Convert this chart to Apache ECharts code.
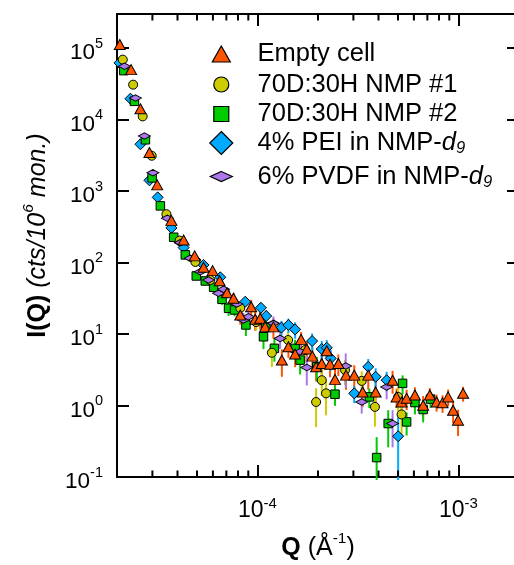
<!DOCTYPE html>
<html><head><meta charset="utf-8">
<script src="https://cdn.jsdelivr.net/npm/echarts@6/dist/echarts.min.js"></script>
<style>html,body{margin:0;padding:0;background:#fff}#c{width:514px;height:565px}</style>
</head><body><div id="c"></div>
<script>
// ---------------- data (Q in 1/Å, I in cts/10^6 mon.) ----------------
const seriesNames = ['Empty cell', '70D:30H NMP #1', '70D:30H NMP #2', '4% PEI in NMP-d9', '6% PVDF in NMP-d9'];

const qEmpty = [2.065e-5, 2.35e-5, 2.616e-5, 2.90e-5, 3.17e-5, 3.73e-5, 4.29e-5, 4.87e-5, 5.39e-5, 5.98e-5,
  6.48e-5, 7.05e-5, 7.60e-5, 8.21e-5, 9.30e-5, 9.74e-5, 1.031e-4, 1.092e-4, 1.20e-4, 1.322e-4,
  1.425e-4, 1.539e-4, 1.648e-4, 1.759e-4, 1.876e-4, 1.957e-4, 2.088e-4, 2.211e-4, 2.296e-4, 2.43e-4,
  2.525e-4, 2.757e-4, 3.03e-4, 3.336e-4, 3.557e-4, 3.87e-4, 4.70e-4, 4.92e-4, 5.21e-4, 5.52e-4,
  6.07e-4, 6.67e-4, 7.20e-4, 7.78e-4, 8.33e-4, 8.88e-4, 9.40e-4, 9.95e-4, 1.054e-3];
const iEmpty = [1.12e5, 5.0e4, 1.42e4, 3470, 1220, 389, 207, 124, 85.9, 77.1,
  55.8, 37.8, 31.6, 18.5, 24.1, 16.1, 16.6, 12.6, 12.6, 4.32,
  6.64, 5.24, 8.42, 6.17, 4.91, 3.48, 3.88, 5.83, 3.79, 2.32,
  3.88, 2.66, 2.66, 1.55, 2.66, 1.55, 2.26, 1.32, 1.12, 1.26,
  1.40, 1.01, 1.40, 1.12, 1.09, 1.32, 0.861, 0.624, 1.48];
const eEmpty = [2000, 800, 300, 80, 40, 15, 10, 8, 7, 7,
  6, 6, 6, 5, 6, 5, 5, 4, 4, 1.8,
  2.0, 1.8, 2.2, 1.8, 1.6, 1.3, 1.3, 1.6, 1.3, 1.0,
  1.3, 1.0, 1.0, 0.6, 1.0, 0.6, 0.8, 0.4, 0.35, 0.4,
  0.4, 0.35, 0.35, 0.3, 0.3, 0.35, 0.3, 0.25, 0.35];

const qNmp1 = [2.137e-5, 2.406e-5, 2.685e-5, 2.977e-5, 3.522e-5, 4.10e-5, 4.91e-5, 5.82e-5, 6.91e-5, 8.21e-5,
  9.85e-5, 1.179e-4, 1.42e-4, 1.725e-4, 1.957e-4, 2.088e-4, 2.193e-4, 2.726e-4, 3.30e-4, 3.84e-4,
  5.01e-4, 5.21e-4];
const iNmp1 = [6.90e4, 3.08e4, 1.108e4, 3120, 475, 203, 102, 57.0, 37.5, 23.1,
  14.7, 5.47, 8.24, 5.97, 1.12, 2.26, 1.48, 3.13, 2.21, 0.957,
  1.32, 0.75];
const eNmp1 = [1500, 700, 250, 70, 15, 8, 6, 5, 5, 4,
  3.5, 2.0, 2.5, 2.0, 0.62, 0.9, 0.75, 1.2, 0.8, 0.45,
  0.5, 0.4];

const qNmp2 = [2.162e-5, 2.442e-5, 2.77e-5, 2.99e-5, 3.287e-5, 3.828e-5, 4.375e-5, 4.96e-5, 5.50e-5, 6.05e-5,
  6.66e-5, 7.18e-5, 7.69e-5, 8.76e-5, 1.071e-4, 1.10e-4, 1.214e-4, 1.539e-4, 1.629e-4, 1.972e-4,
  2.43e-4, 3.60e-4, 3.916e-4, 4.47e-4, 5.27e-4, 5.52e-4, 6.07e-4, 6.67e-4, 7.26e-4];
const iNmp2 = [4.84e4, 1.80e4, 5220, 1530, 621, 226, 128, 64.9, 55.2, 45.1,
  30.6, 22.9, 21.7, 13.4, 9.16, 12.6, 6.30, 6.30, 4.32, 3.48,
  1.44, 1.32, 0.187, 0.56, 2.04, 0.59, 1.10, 0.88, 1.23];
const eNmp2 = [1200, 500, 150, 50, 20, 10, 8, 6, 6, 6,
  5, 5, 4, 4, 3, 3, 2.2, 2.0, 1.6, 1.3,
  0.45, 0.4, 0.175, 0.3, 0.6, 0.21, 0.35, 0.3, 0.3];

const qPei = [2.057e-5, 2.333e-5, 2.616e-5, 2.90e-5, 3.188e-5, 3.73e-5, 4.29e-5, 4.91e-5, 5.39e-5, 6.53e-5,
  8.69e-5, 1.04e-4, 1.105e-4, 1.316e-4, 1.425e-4, 1.539e-4, 1.87e-4, 2.088e-4, 2.211e-4, 2.314e-4,
  3.03e-4, 3.557e-4, 3.87e-4, 4.39e-4, 5.01e-4];
const iPei = [6.20e4, 1.96e4, 4520, 1414, 817, 305, 162, 109, 92.6, 62.2,
  28.3, 23.3, 17.9, 12.3, 13.4, 11.6, 7.98, 6.17, 6.43, 4.56,
  1.48, 3.48, 2.52, 2.26, 0.372];
const ePei = [1500, 500, 120, 40, 20, 10, 8, 7, 6, 5,
  4, 4, 3.5, 3, 3, 3, 2.2, 1.8, 1.8, 1.5,
  0.4, 1.0, 0.8, 0.7, 0.365];

const qPvdf = [2.178e-5, 2.47e-5, 2.737e-5, 3.017e-5, 3.562e-5, 4.13e-5, 4.63e-5, 5.19e-5, 5.71e-5, 6.40e-5,
  6.78e-5, 7.90e-5, 8.52e-5, 9.02e-5, 1.20e-4, 1.296e-4, 1.629e-4, 1.759e-4, 2.748e-4, 3.30e-4,
  4.39e-4, 4.70e-4];
const iPvdf = [5.56e4, 2.005e4, 5890, 1800, 418, 190, 115, 74.6, 57.0, 37.2,
  42.3, 26.3, 15.7, 17.5, 14.1, 8.69, 5.65, 3.41, 3.56, 1.12,
  1.82, 0.56];
const ePvdf = [1400, 500, 150, 50, 15, 9, 7, 6, 5, 5,
  5, 4, 4, 4, 3.5, 2.5, 2.0, 1.5, 1.8, 0.35,
  0.6, 0.3];

// axis ranges and minor tick positions (Q)
const qRange = [2e-5, 2e-3];
const iRange = [0.1, 3e5];
const minorTickQ = [3e-5, 4e-5, 5e-5, 6e-5, 7e-5, 8e-5, 9e-5, 2e-4, 3e-4, 4e-4, 5e-4, 6e-4, 7e-4, 8e-4, 9e-4];

// ---------------- styling ----------------
const FONT = '"Liberation Sans", Arial, Helvetica, sans-serif';
const colors = ['#FF5500', '#CCCC00', '#00CC00', '#00AAFF', '#AA78EA'];
const symbols = ['triangle', 'circle', 'rect', 'diamond', 'diamond'];
const sizes = [[11, 10], 9, 8.5, 11, [12, 6.5]];
const legendIcons = ['path://M9,0L18,16L0,16Z', 'circle', 'path://M0,0H15V15H0Z',
  'path://M11.5,0L23,11.5L11.5,23L0,11.5Z', 'path://M11,0L22,5L11,10L0,5Z'];
const legendIconW = [18, 15, 15, 23, 22];
const legendIconH = [16, 15, 15, 23, 10];
const legendRowY = [54, 84.5, 114, 143, 176.5];
const legendIconX = 220.7;
const legendTextX = 257;

const qs = [qEmpty, qNmp1, qNmp2, qPei, qPvdf];
const is = [iEmpty, iNmp1, iNmp2, iPei, iPvdf];
const es = [eEmpty, eNmp1, eNmp2, ePei, ePvdf];

function supLabel(n, big, small) { return '{' + big + '|10}{' + small + '|' + n + '}'; }
function decadeFormatter(big, small) {
  return function (v) {
    const l = Math.log10(v);
    const r = Math.round(l);
    if (Math.abs(l - r) > 1e-6) return '';
    return supLabel(r, big, small);
  };
}

function errRender(color) {
  return function (params, api) {
    const cs = params.coordSys;
    const q = api.value(0), lo = api.value(1), hi = api.value(2);
    const pHi = api.coord([q, hi]);
    const pLo = api.coord([q, lo]);
    const bottom = cs.y + cs.height;
    const y1 = Math.max(cs.y, pHi[1]);
    const y2 = Math.min(bottom + 3, isFinite(pLo[1]) ? pLo[1] : bottom);
    return { type: 'line', shape: { x1: pHi[0], y1: y1, x2: pHi[0], y2: y2 },
      style: { stroke: color, lineWidth: 2 } };
  };
}

function minorRender(params, api) {
  const cs = params.coordSys;
  const x = api.coord([api.value(0), 1])[0];
  const b = cs.y + cs.height, t = cs.y, L = 6.5;
  return { type: 'group', children: [
    { type: 'line', shape: { x1: x, y1: b, x2: x, y2: b - L }, style: { stroke: '#000', lineWidth: 2 } },
    { type: 'line', shape: { x1: x, y1: t, x2: x, y2: t + L }, style: { stroke: '#000', lineWidth: 2 } }
  ] };
}

const series = [];
// error bars first (under the markers)
for (let k = 0; k < 5; k++) {
  series.push({
    type: 'custom', name: 'err' + k, silent: true, z: 1,
    renderItem: errRender(colors[k]),
    encode: { x: 0, y: [1, 2] },
    data: qs[k].map((q, j) => [q, Math.max(is[k][j] - es[k][j], 1e-3), is[k][j] + es[k][j]])
  });
}
series.push({ type: 'custom', name: 'minor', silent: true, z: 5, renderItem: minorRender,
  encode: { x: 0, y: 1 }, data: minorTickQ.map(q => [q, 1]) });

// draw order of markers: PEI, #2, #1, PVDF, Empty cell
[3, 2, 1, 4, 0].forEach((k, n) => {
  series.push({
    type: 'scatter', name: seriesNames[k], z: 2 + n * 0.1,
    symbol: symbols[k], symbolSize: sizes[k],
    itemStyle: { color: colors[k], borderColor: '#000', borderWidth: 1, opacity: 1 },
    emphasis: { disabled: true },
    data: qs[k].map((q, j) => [q, is[k][j]])
  });
});

const LFS = 25.5;
const legendRich = {
  t: { fontFamily: FONT, fontSize: LFS, lineHeight: 28, color: '#000' },
  i: { fontFamily: FONT, fontSize: LFS, fontStyle: 'italic', lineHeight: 28, color: '#000' },
  sub: { fontFamily: FONT, fontSize: 16.5, fontStyle: 'italic', lineHeight: 14, verticalAlign: 'bottom', color: '#000' }
};
// ECharts places the legend box by its bounding rect (icon left edge), text starts at itemWidth + 5
const legendItemW = 2 * (legendTextX - legendIconX - 5);
const legends = seriesNames.map((name, k) => ({
  data: [{ name: name, icon: legendIcons[k] }],
  left: legendIconX - legendIconW[k] / 2, top: legendRowY[k] - 14,
  padding: 0, itemWidth: legendItemW, itemHeight: legendIconH[k],
  selectedMode: false,
  itemStyle: { color: colors[k], borderColor: '#000', borderWidth: 1.2 },
  formatter: n => (/-d9$/.test(n) ? '{t|' + n.replace(/d9$/, '') + '}{i|d}{sub|9}' : '{t|' + n + '}'),
  textStyle: { fontFamily: FONT, fontSize: LFS, color: '#000', lineHeight: 28, rich: legendRich }
}));

const axisCommon = {
  type: 'log', logBase: 10,
  axisLine: { show: true, onZero: false, lineStyle: { color: '#000', width: 2 } },
  axisTick: { show: true, inside: true, length: 12, lineStyle: { color: '#000', width: 2 } },
  splitLine: { show: false },
  minorTick: { show: false }
};

const option = {
  animation: false,
  backgroundColor: '#fff',
  grid: { left: 117, right: -5, top: 14, bottom: 88, containLabel: false, outerBoundsMode: 'none' },
  legend: legends,
  xAxis: [
    Object.assign({}, axisCommon, {
      position: 'bottom', min: qRange[0], max: qRange[1],
      axisLabel: { show: true, margin: 19, color: '#000', formatter: decadeFormatter('xb', 'xs'),
        rich: {
          xb: { fontFamily: FONT, fontSize: 23, lineHeight: 24, padding: [6, 0, 0, 0], color: '#000' },
          xs: { fontFamily: FONT, fontSize: 15, lineHeight: 15, verticalAlign: 'top', color: '#000' }
        } },
      name: '{qb|Q}{qn| (Å}{qs|-1}{qn|)}', nameLocation: 'middle', nameGap: 54, nameMoveOverlap: false,
      nameTextStyle: { color: '#000', rich: {
        qb: { fontFamily: FONT, fontSize: 25, fontWeight: 'bold', lineHeight: 26, padding: [8, 0, 0, 0], color: '#000' },
        qn: { fontFamily: FONT, fontSize: 25, lineHeight: 26, padding: [8, 0, 0, 0], color: '#000' },
        qs: { fontFamily: FONT, fontSize: 15.5, lineHeight: 15, verticalAlign: 'top', color: '#000' }
      } }
    }),
    Object.assign({}, axisCommon, {
      position: 'top', min: qRange[0], max: qRange[1], axisLabel: { show: false }
    })
  ],
  yAxis: [
    Object.assign({}, axisCommon, {
      position: 'left', min: iRange[0], max: iRange[1],
      axisLabel: { show: true, margin: 14, color: '#000', formatter: decadeFormatter('yb', 'ys'),
        rich: {
          yb: { fontFamily: FONT, fontSize: 22.5, lineHeight: 24, padding: [10, 0, 0, 0], color: '#000' },
          ys: { fontFamily: FONT, fontSize: 14.5, lineHeight: 15, verticalAlign: 'top', color: '#000' }
        } },
      name: '{nb|I(Q)}{nn| }{ni|(cts/10}{ns|6}{ni| mon.)}', nameLocation: 'middle', nameGap: 70,
      nameRotate: 90, nameMoveOverlap: false,
      nameTextStyle: { color: '#000', padding: [0, 0, 0, 20], rich: {
        nb: { fontFamily: FONT, fontSize: 25, fontWeight: 'bold', lineHeight: 26, padding: [8, 0, 0, 0], color: '#000' },
        nn: { fontFamily: FONT, fontSize: 25, lineHeight: 26, padding: [8, 0, 0, 0], color: '#000' },
        ni: { fontFamily: FONT, fontSize: 25, fontStyle: 'italic', lineHeight: 26, padding: [8, 0, 0, 0], color: '#000' },
        ns: { fontFamily: FONT, fontSize: 15.5, fontStyle: 'italic', lineHeight: 15, verticalAlign: 'top', color: '#000' }
      } }
    }),
    Object.assign({}, axisCommon, {
      position: 'right', min: iRange[0], max: iRange[1], axisLabel: { show: false }
    })
  ],
  series: series
};

const chart = echarts.init(document.getElementById('c'), null, { renderer: 'canvas' });
chart.setOption(option);
</script></body></html>
